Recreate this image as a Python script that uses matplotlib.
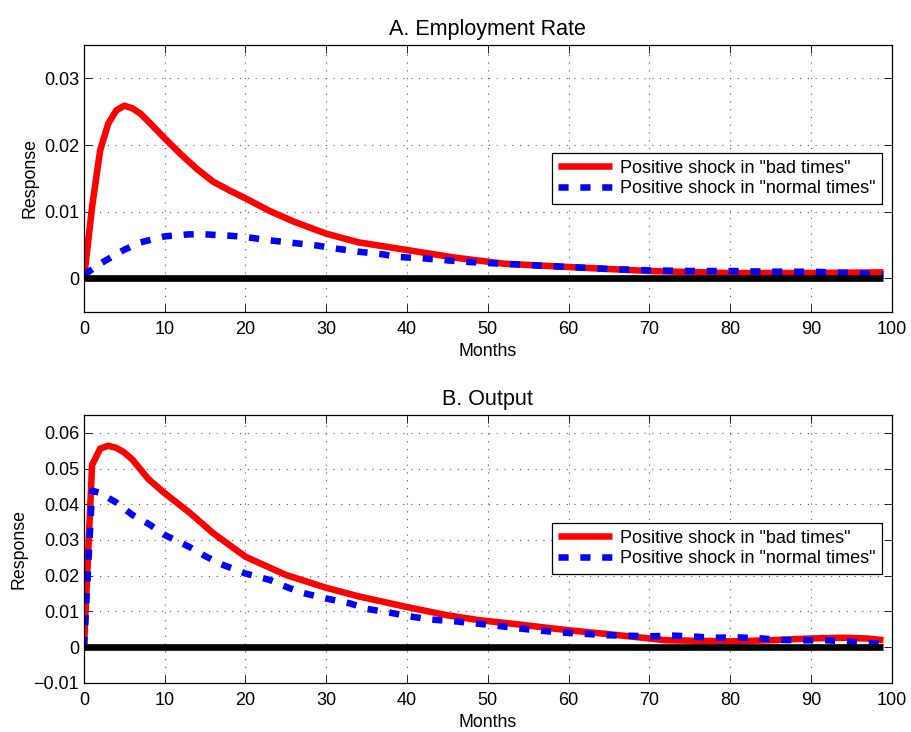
import matplotlib
matplotlib.use("Agg")
import matplotlib.pyplot as plt
import matplotlib.ticker as mtick

plt.rcParams["font.family"] = ["Liberation Sans", "DejaVu Sans"]

# Panel A: employment rate responses (by month)
emp_bad_months = [0, 1, 2, 3, 4, 5, 6, 7, 8, 10, 12, 14, 16, 18, 20, 23, 26,
                  30, 34, 40, 46, 52, 60, 70, 80, 90, 99]
emp_bad = [0.0, 0.0107, 0.0192, 0.0232, 0.0252, 0.0259, 0.0255, 0.0247,
           0.0235, 0.0210, 0.0186, 0.0164, 0.0145, 0.0132, 0.0120, 0.0101,
           0.0085, 0.0067, 0.0054, 0.00425, 0.0031, 0.0022, 0.0017, 0.0011,
           0.0008, 0.0008, 0.0009]

emp_normal_months = [0, 2, 5, 7, 10, 13, 15, 18, 20, 23, 26, 29, 31, 34, 37,
                     39, 42, 45, 47, 50, 55, 60, 65, 70, 75, 80, 85, 90, 95, 99]
emp_normal = [0.0005, 0.0022, 0.0043, 0.0054, 0.0063, 0.0066, 0.0066, 0.0064,
              0.0062, 0.0057, 0.0053, 0.0049, 0.0045, 0.0040, 0.0036, 0.0032,
              0.0030, 0.0027, 0.0025, 0.0023, 0.0020, 0.0017, 0.0014, 0.0012,
              0.0011, 0.0011, 0.0010, 0.0010, 0.0008, 0.0006]

# Panel B: output responses
out_bad_months = [0, 1, 2, 3, 4, 5, 6, 8, 10, 13, 16, 20, 25, 30, 34, 40, 45,
                  49, 52, 60, 65, 70, 72, 80, 85, 90, 94, 97, 99]
out_bad = [0.0, 0.0510, 0.0556, 0.0564, 0.0558, 0.0545, 0.0525, 0.0470,
           0.0431, 0.0378, 0.0319, 0.0253, 0.0202, 0.0166, 0.0142, 0.0112,
           0.0089, 0.0075, 0.0068, 0.0047, 0.0036, 0.0024, 0.0019, 0.0016,
           0.0019, 0.0024, 0.0026, 0.0024, 0.0019]

out_normal_months = [0, 1, 2, 3, 4, 6, 8, 10, 13, 15, 17, 20, 23, 25, 27, 30,
                     33, 35, 38, 40, 43, 46, 49, 51, 54, 56, 59, 62, 65, 67,
                     70, 73, 75, 78, 81, 84, 86, 89, 92, 94, 97, 99]
out_normal = [0.0, 0.0438, 0.0432, 0.0418, 0.0405, 0.0370, 0.0345, 0.0314,
              0.0281, 0.0255, 0.0232, 0.0206, 0.0188, 0.0169, 0.0152, 0.0136,
              0.0122, 0.0107, 0.0096, 0.0087, 0.0077, 0.0072, 0.0065, 0.0060,
              0.0052, 0.0047, 0.0041, 0.0037, 0.0033, 0.0032, 0.0030, 0.0032,
              0.0030, 0.0026, 0.0027, 0.0024, 0.0020, 0.0019, 0.0019, 0.0016,
              0.0011, 0.0010]

labels = ['Positive shock in "bad times"', 'Positive shock in "normal times"']
titles = ["A. Employment Rate", "B. Output"]
x_ticks = list(range(0, 101, 10))
emp_ticks = [0, 0.01, 0.02, 0.03]
out_ticks = [-0.01, 0, 0.01, 0.02, 0.03, 0.04, 0.05, 0.06]


def fmt(v, pos):
    return ("%g" % round(v, 4)).replace("-", "\u2212")


fig = plt.figure(figsize=(9.11, 7.32), dpi=100)
ax_top = fig.add_axes([0.0922, 0.5742, 0.8864, 0.3643])
ax_bot = fig.add_axes([0.0922, 0.0673, 0.8864, 0.3657])

panels = [
    (ax_top, emp_bad_months, emp_bad, emp_normal_months, emp_normal,
     emp_ticks, (-0.005, 0.035), 0.594),
    (ax_bot, out_bad_months, out_bad, out_normal_months, out_normal,
     out_ticks, (-0.01, 0.065), 0.5955),
]

for i, (ax, bm, bv, nm, nv, yt, ylim, leg_y) in enumerate(panels):
    ax.plot(bm, bv, color="red", lw=4.7, solid_capstyle="butt", label=labels[0])
    ax.plot(nm, nv, color="blue", lw=4.7, dashes=(1.55, 1.8), label=labels[1])
    ax.hlines(0, bm[0], bm[-1], color="black", lw=4.8)

    ax.set_xlim(0, 100)
    ax.set_ylim(*ylim)
    ax.set_xticks(x_ticks)
    ax.set_yticks(yt)
    ax.yaxis.set_major_formatter(mtick.FuncFormatter(fmt))
    ax.grid(True, color="0.35", linestyle=(0, (1, 6)), lw=0.8)
    ax.tick_params(direction="in", top=True, right=True, length=6, width=0.6,
                   labelsize=13)
    ax.tick_params(axis="x", pad=7)
    for s in ax.spines.values():
        s.set_linewidth(0.9)

    ax.set_xlabel("Months", fontsize=12.8, labelpad=3)
    ax.set_ylabel("Response", fontsize=12.8)
    ax.set_title(titles[i], fontsize=15.5, pad=7)

    leg = ax.legend(loc="upper right", bbox_to_anchor=(0.9886, leg_y),
                    borderaxespad=0, fontsize=13, handlelength=3.0,
                    handletextpad=0.45, labelspacing=0.2, borderpad=0.35,
                    fancybox=False, framealpha=1, edgecolor="black")
    leg.get_frame().set_linewidth(0.9)

fig.savefig("out.png", dpi=100)
